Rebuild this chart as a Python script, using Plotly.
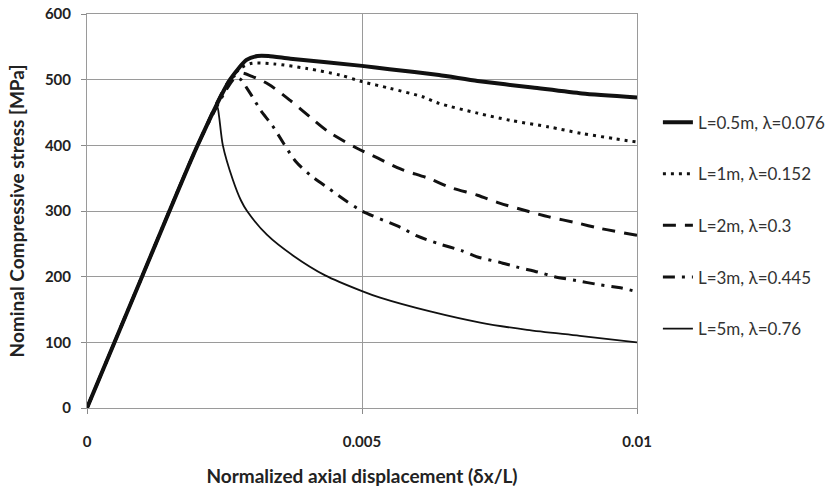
import plotly.graph_objects as go

# ---- data ----
names = ["L=0.5m, λ=0.076", "L=1m, λ=0.152", "L=2m, λ=0.3", "L=3m, λ=0.445", "L=5m, λ=0.76"]

x_05 = [0, 0.001, 0.002, 0.0026, 0.0029, 0.0031, 0.0033, 0.0037, 0.005, 0.0055, 0.0064, 0.0071, 0.0081, 0.009, 0.01]
y_05 = [0, 200, 398, 500, 530, 536, 536, 532, 521, 516, 507, 498, 488, 479, 473]

x_1 = [0, 0.001, 0.002, 0.0026, 0.0028, 0.003, 0.0034, 0.004, 0.0046, 0.005, 0.0055, 0.0061, 0.0064, 0.0071, 0.0077, 0.0084, 0.009, 0.0096, 0.01]
y_1 = [0, 200, 398, 500, 518, 525, 524, 517, 507, 497, 487, 474, 464, 449, 438, 428, 418, 410, 405]

x_2 = [0, 0.001, 0.002, 0.0026, 0.0028, 0.003, 0.0033, 0.0037, 0.0041, 0.0044, 0.0049, 0.0053, 0.0057, 0.0062, 0.0066, 0.0071, 0.0075, 0.008, 0.0084, 0.0089, 0.0093, 0.01]
y_2 = [0, 200, 398, 500, 510, 505, 493, 468, 440, 420, 396, 380, 364, 350, 336, 324, 312, 300, 291, 282, 274, 263]

x_3 = [0, 0.001, 0.002, 0.0025, 0.0027, 0.0028, 0.0029, 0.003, 0.00316, 0.00337, 0.0038, 0.0041, 0.0044, 0.0047, 0.005, 0.0057, 0.006, 0.0064, 0.0068, 0.0071, 0.0075, 0.0078, 0.0082, 0.0085, 0.0089, 0.0093, 0.0097, 0.01]
y_3 = [0, 200, 398, 480, 503, 500, 488, 475, 453, 430, 375, 352, 334, 316, 300, 275, 262, 250, 240, 230, 222, 215, 207, 200, 194, 188, 183, 177]

x_5 = [0, 0.001, 0.002, 0.0023, 0.00237, 0.0024, 0.00247, 0.00265, 0.0028, 0.00291, 0.00327, 0.00375, 0.00433, 0.005, 0.00533, 0.00624, 0.00715, 0.008, 0.00896, 0.01]
y_5 = [0, 200, 398, 450, 458, 445, 400, 348, 316, 300, 264, 232, 202, 178, 168, 147, 130, 119, 110, 100]

x_ticks = [0, 0.005, 0.01]
x_ticklabels = ["0", "0.005", "0.01"]
y_ticks = [0, 100, 200, 300, 400, 500, 600]

series_x = [x_05, x_1, x_2, x_3, x_5]
series_y = [y_05, y_1, y_2, y_3, y_5]
widths = [4, 3, 3, 3, 1.8]
dashes = ["solid", "3px,5px", "13px,9px", "12px,7px,3px,7px", "solid"]
smooth = [0.6, 0.8, 0.8, 0.8, 0.8]

fig = go.Figure()
for i in range(5):
    fig.add_trace(go.Scatter(
        x=series_x[i], y=series_y[i], mode="lines", name=names[i],
        legendgroup=str(i),
        line=dict(color="#111111", width=widths[i], dash=dashes[i], shape="spline", smoothing=smooth[i]),
    ))

FONT = "Lato"
fig.update_layout(
    width=835, height=494,
    margin=dict(l=87, r=198, t=14, b=86, autoexpand=False),
    paper_bgcolor="white", plot_bgcolor="white",
    font=dict(family=FONT, color="#222222"),
    showlegend=True,
    legend=dict(x=1.038, y=0.770, xanchor="left", yanchor="top",
                font=dict(family=FONT, size=17, color="#333333"),
                tracegroupgap=26.5, traceorder="grouped",
                bgcolor="rgba(0,0,0,0)"),
)
fig.update_xaxes(
    range=[0, 0.01], tickvals=x_ticks, ticktext=x_ticklabels,
    automargin=False, ticklabeloverflow="allow",
    showgrid=True, gridcolor="#9a9a9a", gridwidth=1,
    showline=True, mirror=True, linecolor="#9a9a9a", linewidth=1,
    ticks="outside", ticklen=5, tickcolor="#8a8a8a",
    ticklabelstandoff=15,
    tickfont=dict(family=FONT, size=15, color="#222222", weight="bold"),
    title=dict(text="Normalized axial displacement (δx/L)", standoff=20,
               font=dict(family=FONT, size=19, color="#222222", weight="bold")),
    zeroline=False,
)
fig.update_yaxes(
    range=[0, 600], tickvals=y_ticks,
    automargin=False, ticklabeloverflow="allow",
    showgrid=True, gridcolor="#9a9a9a", gridwidth=1,
    showline=True, mirror=True, linecolor="#9a9a9a", linewidth=1,
    ticks="outside", ticklen=5, tickcolor="#8a8a8a",
    ticklabelstandoff=7,
    tickfont=dict(family=FONT, size=15, color="#222222", weight="bold"),
    title=dict(text="Nominal Compressive stress [MPa]", standoff=15,
               font=dict(family=FONT, size=19, color="#222222", weight="bold")),
    zeroline=False,
)

# remove the default 8px page margin so the figure fills the window exactly
fig.write_html("out.html", config={"displayModeBar": False},
               post_script="document.body.style.margin='0';document.body.style.overflow='hidden';")
